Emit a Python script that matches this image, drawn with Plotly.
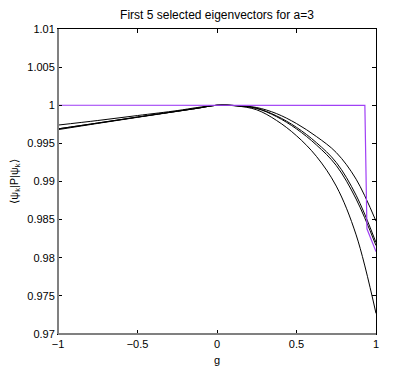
import plotly.graph_objs as go

# g sample points
g = [-1, -0.75, -0.5, -0.25, -0.125, 0, 0.125, 0.25, 0.375, 0.5, 0.625, 0.75, 0.875, 1]

# black curves (eigenvectors 1-4)
psi_a = [0.9974, 0.9980, 0.99865, 0.9993, 0.9997, 1.0, 0.99995, 0.9997, 0.9989, 0.9976, 0.9959, 0.9938, 0.9903, 0.9848]
psi_b = [0.9969, 0.99767, 0.99845, 0.99922, 0.9996, 1.0, 0.99994, 0.9996, 0.9986, 0.9971, 0.9951, 0.9925, 0.9882, 0.9820]
psi_c = [0.9969, 0.99767, 0.99845, 0.99922, 0.9996, 1.0, 0.99994, 0.99958, 0.9985, 0.9969, 0.9948, 0.9921, 0.9877, 0.9816]
psi_d = [0.9968, 0.99762, 0.99842, 0.9992, 0.9996, 1.0, 0.9999, 0.9994, 0.9980, 0.9960, 0.9933, 0.9894, 0.9830, 0.9727]

# purple curve (eigenvector 5)
g_p = [-1, 0, 0.5, 0.93, 0.943, 0.95, 1]
psi_p = [1.0, 1.0, 1.0, 0.99998, 0.9838, 0.9834, 0.9808]

y_ticks = [0.97, 0.975, 0.98, 0.985, 0.99, 0.995, 1.0, 1.005, 1.01]
y_labels = ["0.97", "0.975", "0.98", "0.985", "0.99", "0.995", "1", "1.005", "1.01"]
x_ticks = [-1, -0.5, 0, 0.5, 1]
x_labels = ["\u22121", "\u22120.5", "0", "0.5", "1"]

font = dict(family="Liberation Sans, Arial, sans-serif", size=11, color="black")

fig = go.Figure()

for series in [psi_a, psi_b, psi_c, psi_d]:
    fig.add_trace(
        go.Scatter(
            x=g,
            y=series,
            mode="lines",
            line=dict(width=1, color="black", shape="spline", smoothing=1.0),
            showlegend=False,
        )
    )

fig.add_trace(
    go.Scatter(
        x=g_p,
        y=psi_p,
        mode="lines",
        line=dict(width=1.2, color="#a040f5"),
        showlegend=False,
    )
)

axis_style = dict(
    showline=True,
    linecolor="black",
    linewidth=1,
    mirror="ticks",
    ticks="inside",
    ticklen=4,
    tickcolor="black",
    showgrid=False,
    zeroline=False,
    tickfont=font,
    automargin=False,
)

fig.update_xaxes(
    range=[-1, 1],
    tickvals=x_ticks,
    ticktext=x_labels,
    title=dict(text="g", font=font, standoff=7),
    **axis_style,
)
fig.update_yaxes(
    range=[0.97, 1.01],
    tickvals=y_ticks,
    ticktext=y_labels,
    title=dict(text="\u27e8\u03c8<sub>k</sub>|P|\u03c8<sub>k</sub>\u27e9", font=font, standoff=6),
    **axis_style,
)

# grey left/bottom spines like the original export
fig.add_shape(type="line", xref="paper", yref="paper", x0=0, x1=0, y0=0, y1=1,
              line=dict(color="#808080", width=2))
fig.add_shape(type="line", xref="paper", yref="paper", x0=0, x1=1, y0=0, y1=0,
              line=dict(color="#808080", width=2))

# page body has an 8px margin, so the figure is shrunk by that much
fig.update_layout(
    width=407,
    height=368,
    margin=dict(l=50, r=39, t=21, b=42, autoexpand=False),
    paper_bgcolor="white",
    plot_bgcolor="white",
    font=font,
    title=dict(
        text="First 5 selected eigenvectors for a=3",
        x=0.5,
        xref="paper",
        y=0.981,
        yanchor="middle",
        font=dict(family="Liberation Sans, Arial, sans-serif", size=12, color="black"),
    ),
)

fig.write_html("out.html")
